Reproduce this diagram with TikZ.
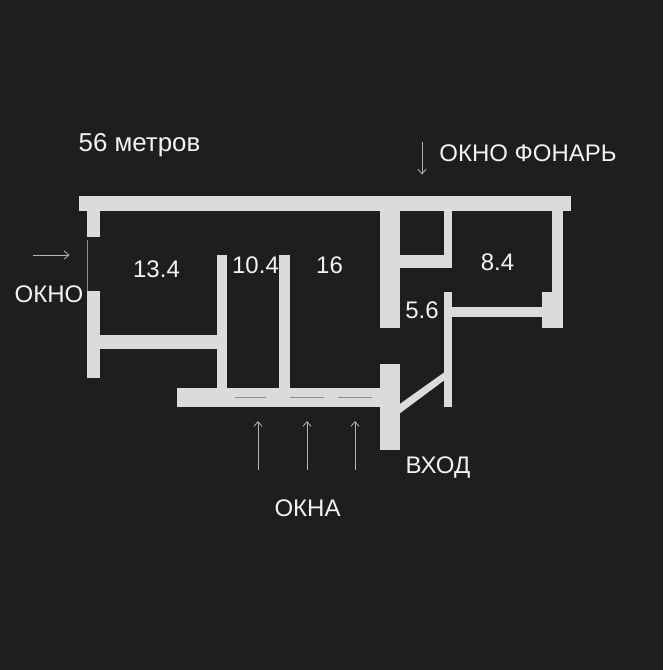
\documentclass[tikz,border=0pt]{standalone}
\usepackage{fontspec}
\setmainfont{Liberation Sans}
\usetikzlibrary{arrows.meta}
\definecolor{bgc}{HTML}{1E1E1E}
\definecolor{wallc}{HTML}{DBDBDB}
\definecolor{txtc}{HTML}{F2F2F2}
\definecolor{thinc}{HTML}{B5B5B5}
\definecolor{winc}{HTML}{8C8C8C}
\tikzset{
  wall/.style={fill=wallc,draw=none},
  lbl/.style={text=txtc,inner sep=0pt,font=\fontsize{18}{21}\selectfont},
  arrowline/.style={draw=thinc,line width=0.75pt,-{Straight Barb[length=3.5pt,width=6pt,line width=0.6pt]}},
  winline/.style={draw=winc,line width=0.7pt}
}
\begin{document}
\begin{tikzpicture}[x=0.75pt,y=-0.75pt]
\useasboundingbox (0,0) rectangle (663,670);
\fill[bgc] (0,0) rectangle (663,670);
% top bar
\path[wall] (78.5,196.5) rectangle (570.5,211.3);
% left wall
\path[wall] (87,211) rectangle (100,236.5);
\path[wall] (87,291) rectangle (100,378);
\path[wall] (100,334.5) rectangle (217,348.5);
% partitions
\path[wall] (217,255) rectangle (227,390);
\path[wall] (279,255) rectangle (290,390);
\path[wall] (176.5,388) rectangle (381,407);
% entrance
\path[wall] (380,363.5) rectangle (400,450);
\path[wall] (399,404.5) -- (444,372.5) -- (444,380.5) -- (399,414) -- cycle;
\path[wall] (443.5,292) rectangle (452,407);
% upper middle
\path[wall] (380,211) rectangle (400,328);
\path[wall] (400,254.7) rectangle (452,268);
\path[wall] (443.5,211) rectangle (452,255);
% right
\path[wall] (552,211) rectangle (562.7,328);
\path[wall] (542,291.7) rectangle (553,328);
\path[wall] (452,307.3) rectangle (542,316.7);
% windows
\coordinate (wa) at (87,240); \coordinate (wb) at (87,291);
\draw[winline] (wa) -- (wb);
\coordinate (w1a) at (235,397); \coordinate (w1b) at (266,397);
\coordinate (w2a) at (290,397); \coordinate (w2b) at (324,397);
\coordinate (w3a) at (338,397); \coordinate (w3b) at (372,397);
\draw[winline] (w1a) -- (w1b);
\draw[winline] (w2a) -- (w2b);
\draw[winline] (w3a) -- (w3b);
% arrows
\coordinate (a1s) at (33,255); \coordinate (a1e) at (69.5,255);
\coordinate (a2s) at (422,142); \coordinate (a2e) at (422,174.5);
\coordinate (a3s) at (258,470); \coordinate (a3e) at (258,421);
\coordinate (a4s) at (307,470); \coordinate (a4e) at (307,421);
\coordinate (a5s) at (355,470); \coordinate (a5e) at (355,421);
\draw[arrowline] (a1s) -- (a1e);
\draw[arrowline] (a2s) -- (a2e);
\draw[arrowline] (a3s) -- (a3e);
\draw[arrowline] (a4s) -- (a4e);
\draw[arrowline] (a5s) -- (a5e);
% labels
\node[lbl,font=\fontsize{19.4}{23}\selectfont] (t56) at (139.5,145) {56 метров};
\node[lbl] (tfon) at (528,153.5) {ОКНО ФОНАРЬ};
\node[lbl] (tokno) at (49,294.5) {ОКНО};
\node[lbl] (r134) at (156.5,269.5) {13.4};
\node[lbl] (r104) at (255.5,265.5) {10.4};
\node[lbl] (r16) at (329.5,265.5) {16};
\node[lbl] (r84) at (497.5,262) {8.4};
\node[lbl] (r56) at (422,310.5) {5.6};
\node[lbl] (tvhod) at (438,467.5) {ВХОД};
\node[lbl] (tokna) at (307.5,508) {ОКНА};
\end{tikzpicture}
\end{document}
